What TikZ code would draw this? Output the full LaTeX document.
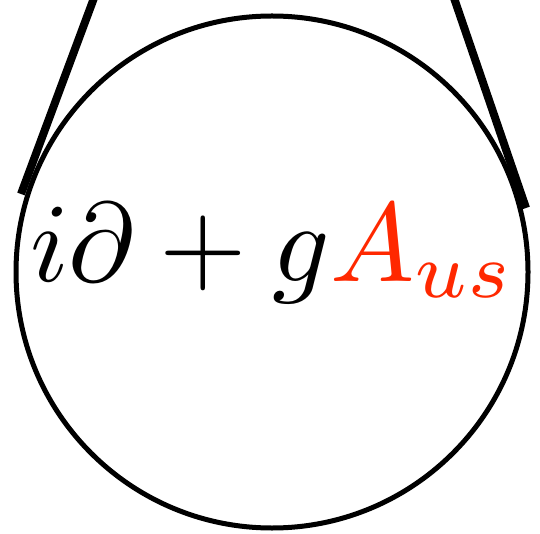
\documentclass[tikz,border=0pt]{standalone}
\usepackage{graphicx}
\definecolor{usred}{RGB}{255,40,0}
\tikzset{
  ring/.style={draw=black, line width=5pt, circle, minimum size=512pt, inner sep=0pt},
  leg/.style={draw=black, line width=8pt},
  formula/.style={anchor=base, inner sep=0pt}
}
\begin{document}
\begin{tikzpicture}[x=1pt, y=-1pt]
\useasboundingbox (0,0) rectangle (540,534);
\node[ring] (c) at (272,272) {};
\coordinate (lt) at (94,-2);
\coordinate (lb) at (21,194);
\coordinate (rt) at (454,-2);
\coordinate (rb) at (526,208);
\draw[leg] (lt) -- (lb);
\draw[leg] (rt) -- (rb);
\node[formula] (f) at (273,281) {\scalebox{11.25}{$i\partial + g\textcolor{usred}{A_{us}}$}};
\end{tikzpicture}
\end{document}
